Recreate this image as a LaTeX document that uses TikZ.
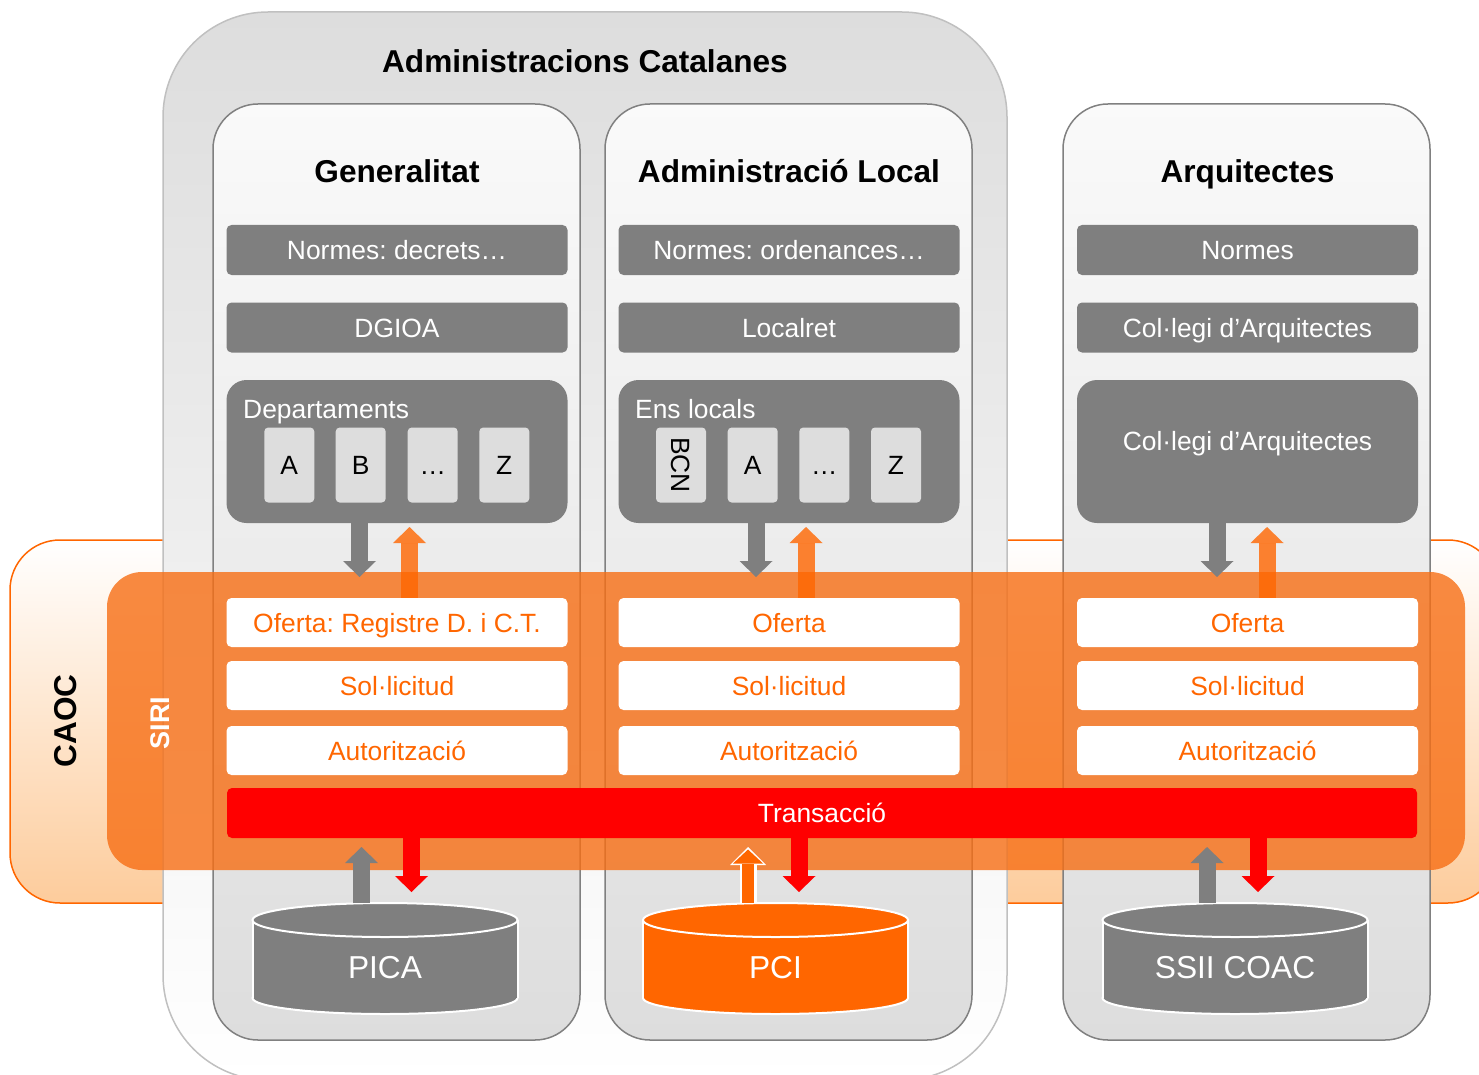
\documentclass[tikz,border=0pt]{standalone}
\usepackage{fontspec}
\setmainfont{Liberation Sans}
\usepackage{tikz}
\usetikzlibrary{arrows.meta}
\frenchspacing
\definecolor{boxgray}{RGB}{127,127,127}
\definecolor{cellgray}{RGB}{221,221,221}
\definecolor{caocorange}{RGB}{255,102,0}
\definecolor{caocpeach}{RGB}{253,204,156}
\definecolor{siriorange}{RGB}{247,110,20}
\definecolor{edgegray}{RGB}{128,128,128}
\definecolor{outergray}{RGB}{192,192,192}
\definecolor{transred}{RGB}{255,0,0}
\newcommand{\headfont}{\fontsize{31.6}{36}\selectfont\bfseries}
\newcommand{\boxfont}{\fontsize{26.4}{30}\selectfont}
\newcommand{\dbfont}{\fontsize{31.7}{36}\selectfont}
\tikzset{
  caocbox/.style={draw=caocorange, line width=1.5pt, rounded corners=50pt, top color=white, bottom color=caocpeach},
  outerbox/.style={draw=outergray, line width=1.5pt, rounded corners=105pt, top color=cellgray, bottom color=white},
  column/.style={draw=edgegray, line width=1.5pt, rounded corners=45pt, top color=white!98!black, bottom color=cellgray},
  sirilayer/.style={fill=siriorange, fill opacity=0.8, rounded corners=35pt},
  heading/.style={anchor=base, font=\headfont, inner sep=0pt},
  boxtext/.style={inner sep=0pt, font=\boxfont, text height=19pt, text depth=0pt},
  graybox/.style={boxtext, rectangle, rounded corners=5pt, fill=boxgray, text=white, minimum width=341pt, minimum height=50pt},
  groupbox/.style={rectangle, rounded corners=20pt, fill=boxgray, minimum width=341pt, minimum height=143pt, inner sep=0pt},
  grouplabel/.style={anchor=west, text=white, font=\boxfont, inner sep=0pt, text height=19pt, text depth=0pt},
  cell/.style={boxtext, rectangle, rounded corners=4pt, fill=cellgray, minimum width=50pt, minimum height=75pt},
  stepbox/.style={boxtext, rectangle, rounded corners=5pt, fill=white, text=caocorange, minimum width=341pt, minimum height=49pt},
  transbar/.style={boxtext, rectangle, rounded corners=5pt, fill=transred, text=white, minimum width=1190pt, minimum height=50pt},
  grayarrow/.style={draw=boxgray, line width=17pt, -{Triangle[length=16pt, width=33pt, line width=0pt]}},
  orangearrow/.style={draw=caocorange, opacity=0.8, line width=17pt, -{Triangle[length=16pt, width=33pt, line width=0pt]}},
  redarrow/.style={draw=transred, line width=17pt, -{Triangle[length=16pt, width=33pt, line width=0pt]}},
}
\newcommand{\graynode}{\node[graybox]}
\newcommand{\cellnode}{\node[cell]}
\newcommand{\stepnode}{\node[stepbox]}
% cylinder: name, x, colour, label
\newcommand{\dbnode}[4]{%
  \filldraw[fill=#3, draw=white, line width=2pt] (#2,998) ellipse [x radius=132.5, y radius=16];
  \fill[#3] (#2-132.5,920) rectangle (#2+132.5,998);
  \draw[white, line width=2pt] (#2-132.5,920) -- (#2-132.5,998) (#2+132.5,920) -- (#2+132.5,998);
  \filldraw[fill=#3, draw=white, line width=2pt] (#2,920) ellipse [x radius=132.5, y radius=17];
  \node[text=white, font=\dbfont, inner sep=0pt, text height=22.7pt, text depth=0pt] (#1) at (#2,967) {#4};
  \coordinate (#1-top) at (#2,903);
}

\begin{document}
\begin{tikzpicture}[x=1pt,y=-1pt]
\useasboundingbox (0,0) rectangle (1479,1075);
% CAOC
\draw[caocbox] (10,540) rectangle (1498,903);
\node[rotate=90, font=\headfont] (caoc) at (66,721) {CAOC};
% Administracions Catalanes
\draw[outerbox] (163,12) rectangle (1007,1080);
\node[heading] (adcat) at (585,73) {Administracions Catalanes};
\draw[column] (213,104) rectangle (580,1040);
\draw[column] (605,104) rectangle (972,1040);
\draw[column] (1063,104) rectangle (1430,1040);
\node[heading] (gen) at (397,183) {Generalitat};
\node[heading] (local) at (789,183) {Administració Local};
\node[heading] (arq) at (1247.5,183) {Arquitectes};
% Generalitat
\graynode (normes1) at (397,250) {Normes: decrets…};
\graynode (dgioa) at (397,327.5) {DGIOA};
\node[groupbox] (dept1) at (397,451.5) {};
\node[grouplabel] (deptlabel) at (243,409) {Departaments};
\cellnode (depa) at (289.3,465) {A};
\cellnode (depb) at (360.7,465) {B};
\cellnode (depdots) at (432.7,465) {…};
\cellnode (depz) at (504.3,465) {Z};
% Administracio Local
\graynode (normes2) at (789,250) {Normes: ordenances…};
\graynode (localret) at (789,327.5) {Localret};
\node[groupbox] (dept2) at (789,451.5) {};
\node[grouplabel] (enslabel) at (635,409) {Ens locals};
\cellnode[rotate=-90, minimum width=75pt, minimum height=50pt] (bcn) at (681,465) {BCN};
\cellnode (ensa) at (752.7,465) {A};
\cellnode (ensdots) at (824.3,465) {…};
\cellnode (ensz) at (896,465) {Z};
% Arquitectes
\graynode (normes3) at (1247.5,250) {Normes};
\graynode (coac) at (1247.5,327.5) {Col·legi d’Arquitectes};
\node[groupbox] (dept3) at (1247.5,451.5) {};
\node[boxtext, text=white] (coac2) at (1247.5,441) {Col·legi d’Arquitectes};
% SIRI
\fill[sirilayer] (107,572) rectangle (1465,870);
\node[rotate=90, text=white, font=\fontsize{27}{30}\selectfont\bfseries] (siri) at (160,723) {SIRI};
\stepnode (oferta1) at (397,622.5) {Oferta: Registre D. i C.T.};
\stepnode (sol1) at (397,685.5) {Sol·licitud};
\stepnode (aut1) at (397,750.5) {Autorització};
\stepnode (oferta2) at (789,622.5) {Oferta};
\stepnode (sol2) at (789,685.5) {Sol·licitud};
\stepnode (aut2) at (789,750.5) {Autorització};
\stepnode (oferta3) at (1247.5,622.5) {Oferta};
\stepnode (sol3) at (1247.5,685.5) {Sol·licitud};
\stepnode (aut3) at (1247.5,750.5) {Autorització};
\node[transbar] (trans) at (822,813) {Transacció};
% arrows to and from SIRI
\coordinate (dept1-in) at (359.5,577);
\coordinate (dept1-out) at (409.5,527);
\coordinate (dept2-in) at (756,577);
\coordinate (dept2-out) at (806,527);
\coordinate (dept3-in) at (1217,577);
\coordinate (dept3-out) at (1267,527);
\draw[grayarrow] (dept1.south -| dept1-in) -- (dept1-in);
\draw[orangearrow] (oferta1.north -| dept1-out) -- (dept1-out);
\draw[grayarrow] (dept2.south -| dept2-in) -- (dept2-in);
\draw[orangearrow] (oferta2.north -| dept2-out) -- (dept2-out);
\draw[grayarrow] (dept3.south -| dept3-in) -- (dept3-in);
\draw[orangearrow] (oferta3.north -| dept3-out) -- (dept3-out);
% databases
\dbnode{pica}{385}{boxgray}{PICA}
\dbnode{pci}{775.5}{caocorange}{PCI}
\dbnode{ssii}{1235}{boxgray}{SSII COAC}
\coordinate (pica-in) at (361.5,847);
\coordinate (pica-out) at (411.5,892);
\coordinate (pci-in) at (748,847);
\coordinate (pci-out) at (799,892);
\coordinate (ssii-in) at (1207,847);
\coordinate (ssii-out) at (1258,892);
\draw[grayarrow] (pica-top -| pica-in) -- (pica-in);
\draw[redarrow] (trans.south -| pica-out) -- (pica-out);
\draw[white, line width=17pt, -{Triangle[length=18pt, width=36pt, line width=0pt]}] (pci-top -| pci-in) -- (pci-in);
\draw[caocorange, line width=12pt, shorten >=2.5pt, -{Triangle[length=14pt, width=30pt, line width=0pt]}] (pci-top -| pci-in) -- (pci-in);
\draw[redarrow] (trans.south -| pci-out) -- (pci-out);
\draw[grayarrow] (ssii-top -| ssii-in) -- (ssii-in);
\draw[redarrow] (trans.south -| ssii-out) -- (ssii-out);
\end{tikzpicture}
\end{document}
